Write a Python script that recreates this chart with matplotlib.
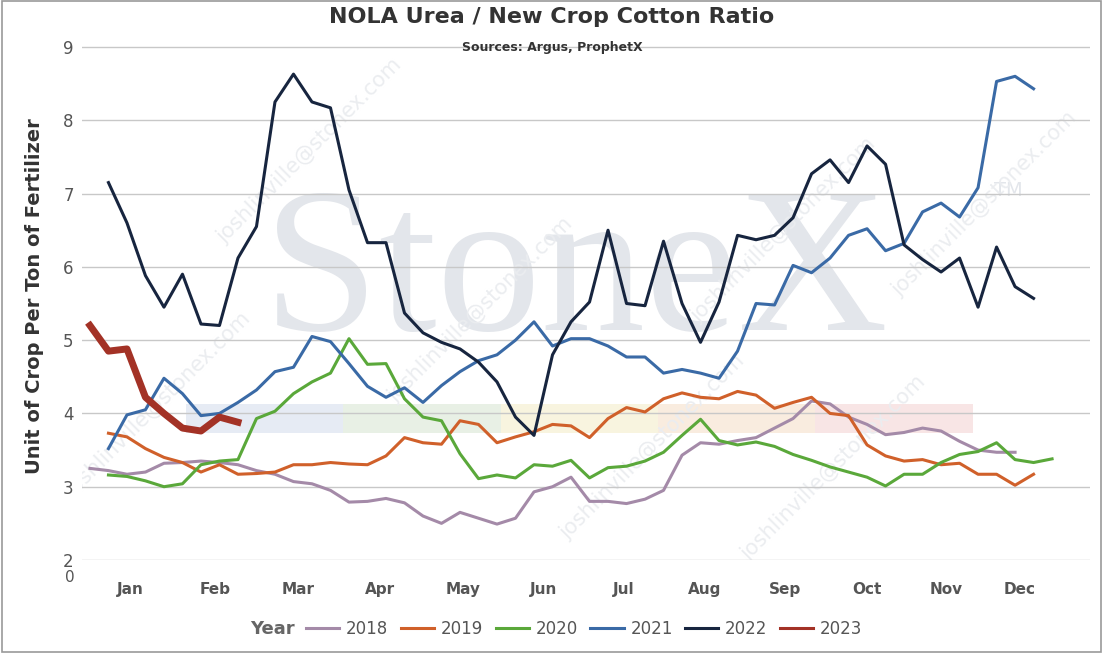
import matplotlib.pyplot as plt
import numpy as np
from matplotlib.patches import Rectangle

# weekly ratio values
vals_2018 = [3.25, 3.22, 3.17, 3.2, 3.32, 3.33, 3.35, 3.33, 3.3, 3.22, 3.17, 3.07, 3.04, 2.95, 2.79, 2.8,
             2.84, 2.78, 2.6, 2.5, 2.65, 2.57, 2.49, 2.57, 2.93, 3.0, 3.13, 2.8, 2.8, 2.77, 2.83, 2.95,
             3.43, 3.6, 3.58, 3.63, 3.67, 3.8, 3.93, 4.17, 4.13, 3.95, 3.85, 3.71, 3.74, 3.8, 3.76, 3.62,
             3.5, 3.47, 3.47]
vals_2019 = [3.73, 3.68, 3.52, 3.4, 3.33, 3.2, 3.3, 3.17, 3.18, 3.2, 3.3, 3.3, 3.33, 3.31, 3.3, 3.42,
             3.67, 3.6, 3.58, 3.9, 3.85, 3.6, 3.68, 3.75, 3.85, 3.83, 3.67, 3.93, 4.08, 4.02, 4.2, 4.28,
             4.22, 4.2, 4.3, 4.25, 4.07, 4.15, 4.22, 4.0, 3.97, 3.57, 3.42, 3.35, 3.37, 3.3, 3.32, 3.17,
             3.17, 3.02, 3.17]
vals_2020 = [3.16, 3.14, 3.08, 3.0, 3.04, 3.3, 3.35, 3.37, 3.93, 4.03, 4.27, 4.43, 4.55, 5.02, 4.67, 4.68,
             4.2, 3.95, 3.9, 3.45, 3.11, 3.16, 3.12, 3.3, 3.28, 3.36, 3.12, 3.26, 3.28, 3.35, 3.47, 3.7,
             3.92, 3.63, 3.57, 3.61, 3.55, 3.44, 3.36, 3.27, 3.2, 3.13, 3.01, 3.17, 3.17, 3.33, 3.44, 3.48,
             3.6, 3.37, 3.33, 3.38]
vals_2021 = [3.52, 3.98, 4.05, 4.48, 4.27, 3.97, 4.0, 4.15, 4.32, 4.57, 4.63, 5.05, 4.98, 4.68, 4.37, 4.22,
             4.35, 4.15, 4.38, 4.57, 4.72, 4.8, 5.0, 5.25, 4.92, 5.02, 5.02, 4.92, 4.77, 4.77, 4.55, 4.6,
             4.55, 4.48, 4.85, 5.5, 5.48, 6.02, 5.92, 6.12, 6.43, 6.52, 6.22, 6.32, 6.75, 6.87, 6.68, 7.08,
             8.53, 8.6, 8.43]
vals_2022 = [7.15, 6.6, 5.88, 5.45, 5.9, 5.22, 5.2, 6.12, 6.55, 8.25, 8.63, 8.25, 8.17, 7.05, 6.33, 6.33,
             5.37, 5.1, 4.97, 4.88, 4.7, 4.43, 3.95, 3.7, 4.8, 5.25, 5.52, 6.5, 5.5, 5.47, 6.35, 5.5,
             4.97, 5.52, 6.43, 6.37, 6.43, 6.67, 7.27, 7.46, 7.15, 7.65, 7.4, 6.3, 6.1, 5.93, 6.12, 5.45,
             6.27, 5.73, 5.57]
vals_2023 = [5.2, 4.85, 4.88, 4.22, 4.0, 3.8, 3.76, 3.95, 3.88]

months = ['Jan', 'Feb', 'Mar', 'Apr', 'May', 'Jun', 'Jul', 'Aug', 'Sep', 'Oct', 'Nov', 'Dec']
month_pos = [3.16, 7.76, 12.24, 16.68, 21.16, 25.54, 29.86, 34.24, 38.57, 43.0, 47.3, 51.27]

W, H = 1103, 653
fig = plt.figure(figsize=(W / 100, H / 100), dpi=100)
ax = fig.add_axes([82 / W, 1 - 560 / H, (1090 - 82) / W, (560 - 32) / H])

ax.set_xlim(0.57, 55.05)
ax.set_ylim(2, 9.0 + 15 / 73.3)

# watermark
ax.text(0.49, 0.53, 'StoneX', transform=ax.transAxes, ha='center', va='center',
        fontsize=150, family='Liberation Serif', color='#e3e6eb', zorder=0)
ax.text(0.905, 0.69, 'TM', transform=ax.transAxes, fontsize=14, color='#e3e6eb', zorder=0)
band_cols = ['#e6ebf4', '#e8f0e5', '#f8f4df', '#f9ecdf', '#f8e5e5']
for k, c in enumerate(band_cols):
    ax.add_patch(Rectangle((6.2 + k * 8.5, 3.73), 8.5, 0.4, color=c, zorder=0, lw=0))
for (x, y) in [(-0.02, 0.12), (0.13, 0.6), (0.3, 0.3), (0.47, 0.04), (0.6, 0.45),
               (0.65, 0.0), (0.8, 0.5)]:
    ax.text(x, y, 'joshlinville@stonex.com', transform=ax.transAxes, rotation=45,
            fontsize=15, color='#ebedf0', zorder=0, clip_on=True)

for y in range(2, 10):
    ax.axhline(y, color='#c8c8c8', lw=1, zorder=1)

series = [('2018', vals_2018, '#a48aa8', 1, 2.2),
          ('2019', vals_2019, '#d0602a', 2, 2.2),
          ('2020', vals_2020, '#5aa83a', 2, 2.2),
          ('2021', vals_2021, '#3a6aa6', 2, 2.2),
          ('2022', vals_2022, '#17253f', 2, 2.2),
          ('2023', vals_2023, '#a33226', 1, 5.0)]
for name, v, c, start, lw in series:
    x = np.arange(start, start + len(v))
    ax.plot(x, v, color=c, lw=lw, label=name, zorder=3)

ax.set_xticks(month_pos)
ax.set_xticklabels(months, fontsize=11, fontweight='bold', color='#555555')
ax.tick_params(axis='x', length=0, pad=16)
ax.text(-0.08, 1.86, '0', ha='center', va='top', fontsize=11, color='#555555', clip_on=False)
ax.set_yticks(range(2, 10))
ax.tick_params(axis='y', length=0, labelsize=12, labelcolor='#555555', pad=6)
for s in ax.spines.values():
    s.set_visible(False)

ax.set_ylabel('Unit of Crop Per Ton of Fertilizer', fontsize=14, fontweight='bold',
              color='#333333', labelpad=14)
fig.text(552 / W, 1 - 17 / H, 'NOLA Urea / New Crop Cotton Ratio', ha='center', va='center',
         fontsize=16, fontweight='bold', color='#333333')
fig.text(552 / W, 1 - 47 / H, 'Sources: Argus, ProphetX', ha='center', va='center',
         fontsize=9, fontweight='bold', color='#333333')

leg = fig.legend(loc='center left', bbox_to_anchor=(306 / W, 1 - 629 / H), ncol=6, frameon=False,
                 fontsize=12, handlelength=2.0, columnspacing=0.75, handletextpad=0.4,
                 borderaxespad=0, borderpad=0)
for t in leg.get_texts():
    t.set_color('#555555')
for l in leg.get_lines():
    l.set_linewidth(2.2)
fig.text(272 / W, 1 - 629 / H, 'Year', ha='center', va='center', fontsize=13,
         fontweight='bold', color='#666666')

fig.patches.append(Rectangle((0.002, 0.002), 0.996, 0.996, transform=fig.transFigure,
                             fill=False, ec='#999999', lw=1.2))
fig.savefig('out.png', dpi=100)
